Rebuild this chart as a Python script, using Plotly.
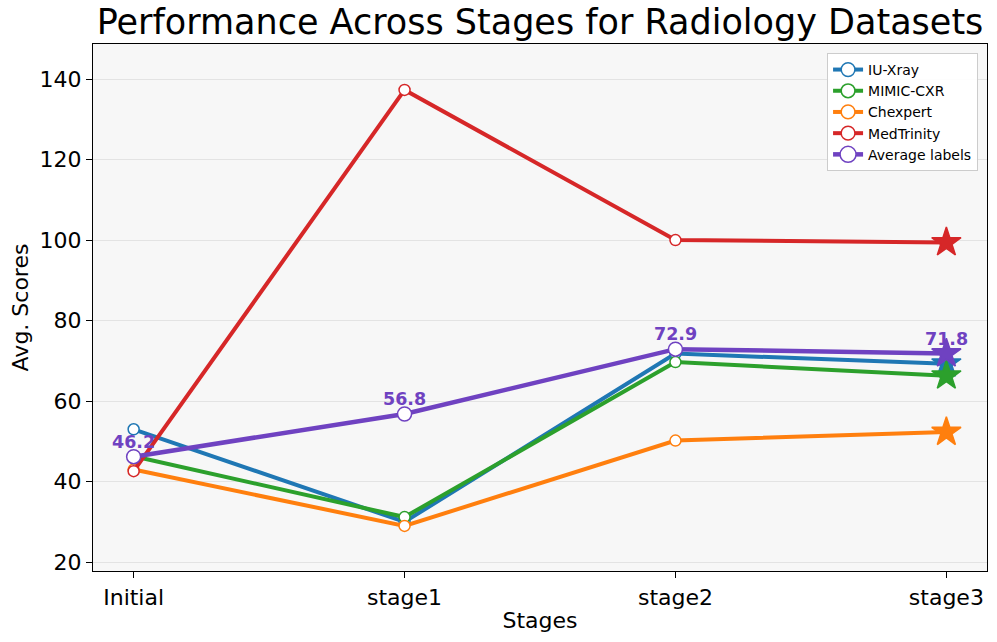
import plotly.graph_objects as go

stages = ["Initial", "stage1", "stage2", "stage3"]
iu_xray = [53.0, 30.0, 71.8, 69.3]
mimic_cxr = [46.3, 31.2, 69.7, 66.3]
chexpert = [43.0, 29.0, 50.2, 52.3]
medtrinity = [42.6, 137.3, 100.0, 99.4]
average = [46.2, 56.8, 72.9, 71.8]

series = [
    ("IU-Xray", iu_xray, "#1f77b4"),
    ("MIMIC-CXR", mimic_cxr, "#2ca02c"),
    ("Chexpert", chexpert, "#ff7f0e"),
    ("MedTrinity", medtrinity, "#d62728"),
]
avg_color = "#6f42c1"

fig = go.Figure()
x = list(range(len(stages)))
for name, vals, col in series:
    n = len(vals)
    fig.add_trace(go.Scatter(
        x=x, y=vals, name=name, mode="lines+markers",
        line=dict(color=col, width=4),
        marker=dict(
            symbol=["circle"] * (n - 1) + ["star"],
            size=[11] * (n - 1) + [22],
            color=["white"] * (n - 1) + [col],
            line=dict(color=col, width=1.5),
            opacity=1,
        ),
    ))

n = len(average)
fig.add_trace(go.Scatter(
    x=x, y=average, name="Average labels", mode="lines+markers",
    line=dict(color=avg_color, width=4.5),
    marker=dict(
        symbol=["circle"] * (n - 1) + ["star"],
        size=[14] * (n - 1) + [22],
        color=["white"] * (n - 1) + [avg_color],
        line=dict(color=avg_color, width=1.5),
        opacity=1,
    ),
))

for xi, v in zip(x, average):
    fig.add_annotation(
        x=xi, y=v, text=f"{v:.1f}", showarrow=False,
        xanchor="center", yanchor="middle", yshift=15,
        font=dict(color=avg_color, size=17.5, family="DejaVu Sans", weight="bold"),
    )

fig.update_layout(
    width=997, height=642,
    margin=dict(l=93, r=10, t=44, b=71, autoexpand=False),
    paper_bgcolor="white",
    plot_bgcolor="#f7f7f7",
    font=dict(family="DejaVu Sans", color="black"),
    title=dict(text="Performance Across Stages for Radiology Datasets",
               x=0.5, xref="paper", xanchor="center", y=0.966, yanchor="middle",
               font=dict(size=35, color="black")),
    legend=dict(x=0.99, y=0.983, xanchor="right", yanchor="top",
                bgcolor="rgba(255,255,255,0.9)", bordercolor="#cccccc", borderwidth=1,
                font=dict(size=14), tracegroupgap=0, itemwidth=30),
    showlegend=True,
)
fig.update_xaxes(
    tickmode="array", tickvals=x, ticktext=stages,
    range=[-0.15, 3.15], automargin=False,
    showgrid=False, zeroline=False,
    showline=True, linecolor="black", linewidth=1.2, mirror=True,
    ticks="outside", ticklen=6, tickcolor="black",
    tickfont=dict(size=22),
    title=dict(text="Stages", font=dict(size=22), standoff=4),
)
fig.update_yaxes(
    range=[17.8, 148.7], automargin=False,
    tickvals=[20, 40, 60, 80, 100, 120, 140],
    showgrid=True, gridcolor="#e3e3e3", gridwidth=1, zeroline=False,
    showline=True, linecolor="black", linewidth=1.2, mirror=True,
    ticks="outside", ticklen=6, tickcolor="black",
    tickfont=dict(size=22),
    title=dict(text="Avg. Scores", font=dict(size=22), standoff=4),
)

fig.write_html("out.html", config={"displayModeBar": False},
               post_script="document.body.style.margin='0';document.body.style.overflow='hidden';")
